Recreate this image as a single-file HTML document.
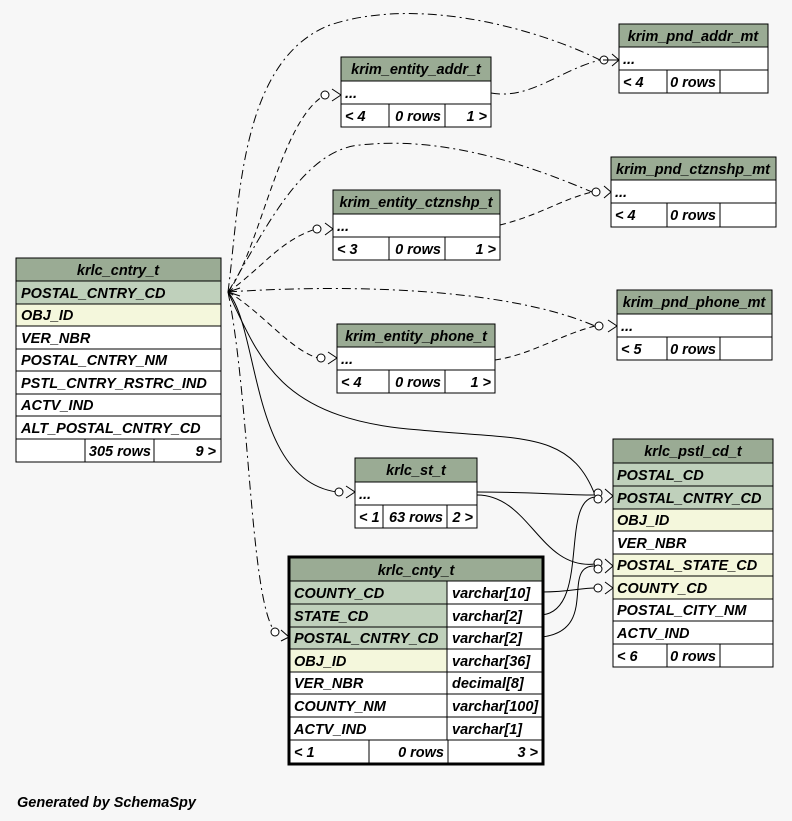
<!DOCTYPE html>
<html><head><meta charset="utf-8"><style>
html,body{margin:0;padding:0;background:#f7f7f7}
svg{display:block}
text{font-family:"Liberation Sans",Arial,sans-serif;font-weight:bold;font-style:italic;font-size:14.5px;fill:#000}
.h{fill:#9aab94}.k{fill:#bfd0bb}.y{fill:#f4f7dc}.w{fill:#fff}
rect{stroke:#000;stroke-width:1}
.e{fill:none;stroke:#000;stroke-width:1}
.d{fill:none;stroke:#000;stroke-width:1;stroke-dasharray:6,4}
.dd{fill:none;stroke:#000;stroke-width:1;stroke-dasharray:9,4,2,4}
circle{fill:#fff;stroke:#000}
</style></head><body>
<svg width="792" height="821" viewBox="0 0 792 821" xmlns="http://www.w3.org/2000/svg">
<rect x="0" y="0" width="792" height="821" fill="#f7f7f7" style="stroke:none"/>

<!-- edges -->
<path class="dd" d="M228,292 C240,200 240,60 330,25 C420,-5 540,30 600,60"/>
<path class="d" d="M228,292 C260,250 280,120 325,95"/>
<path class="dd" d="M491,93 C530,100 560,70 600,60"/>
<path class="dd" d="M228,292 C260,240 300,150 360,145 C450,135 540,170 592,192"/>
<path class="d" d="M228,292 C260,270 280,240 316,229"/>
<path class="d" d="M500,225 C540,215 560,200 592,192"/>
<path class="dd" d="M228,292 C330,285 500,285 595,326"/>
<path class="d" d="M228,292 C260,310 290,350 318,358"/>
<path class="d" d="M495,360 C530,355 560,335 595,326"/>
<path class="e" d="M228,292 C260,330 250,480 337,492"/>
<path class="e" d="M228,292 C260,360 280,420 420,430 C520,440 570,430 595,495"/>
<path class="e" d="M477,492 C530,492 560,495 595,495"/>
<path class="e" d="M477,495 C530,495 540,570 595,564"/>
<path class="e" d="M542,592 C570,592 580,588 595,588"/>
<path class="e" d="M542,615 C590,610 560,500 595,497"/>
<path class="e" d="M542,637 C600,630 560,565 595,566"/>
<path class="dd" d="M228,292 C250,400 250,600 275,632"/>
<!-- markers -->
<circle cx="604" cy="60" r="4"/><circle cx="325" cy="95" r="4"/>
<circle cx="596" cy="192" r="4"/><circle cx="317" cy="229" r="4"/>
<circle cx="599" cy="326" r="4"/><circle cx="321" cy="358" r="4"/>
<circle cx="339" cy="492" r="4"/>
<circle cx="598" cy="493" r="4"/><circle cx="598" cy="499" r="4"/>
<circle cx="598" cy="563" r="4"/><circle cx="598" cy="569" r="4"/>
<circle cx="598" cy="588" r="4"/>
<circle cx="275" cy="632" r="4"/>
<path class="e" d="M612,54 L619,60 L612,66 M619,60 L603,60 M332,89 L341,95 L332,101 M604,186 L611,192 L604,198 M325,223 L333,229 L325,235 M608,320 L617,326 L608,332 M328,352 L337,358 L328,364 M346,486 L355,492 L346,498 M605,489 L613,496 L605,503 M605,559 L613,566 L605,573 M605,582 L613,588 L605,594 M281,630 L289,637 L281,641 M228,292 L240,288 M228,292 L240,296"/>

<!-- krlc_cntry_t -->
<rect class="h" x="16" y="258" width="205" height="23"/><text x="118" y="275" text-anchor="middle">krlc_cntry_t</text>
<rect class="k" x="16" y="281" width="205" height="23"/><text x="21" y="298">POSTAL_CNTRY_CD</text>
<rect class="y" x="16" y="304" width="205" height="22"/><text x="21" y="320">OBJ_ID</text>
<rect class="w" x="16" y="326" width="205" height="23"/><text x="21" y="343">VER_NBR</text>
<rect class="w" x="16" y="349" width="205" height="22"/><text x="21" y="365">POSTAL_CNTRY_NM</text>
<rect class="w" x="16" y="371" width="205" height="23"/><text x="21" y="388">PSTL_CNTRY_RSTRC_IND</text>
<rect class="w" x="16" y="394" width="205" height="22"/><text x="21" y="410">ACTV_IND</text>
<rect class="w" x="16" y="416" width="205" height="23"/><text x="21" y="433">ALT_POSTAL_CNTRY_CD</text>
<rect class="w" x="16" y="439" width="69" height="23"/><rect class="w" x="85" y="439" width="69" height="23"/><rect class="w" x="154" y="439" width="67" height="23"/>
<text x="151" y="456" text-anchor="end">305 rows</text><text x="216" y="456" text-anchor="end">9 &gt;</text>

<!-- krim_entity_addr_t -->
<rect class="h" x="341" y="57" width="150" height="24"/><text x="416" y="74" text-anchor="middle">krim_entity_addr_t</text>
<rect class="w" x="341" y="81" width="150" height="23"/><text x="345" y="98">...</text>
<rect class="w" x="341" y="104" width="48" height="23"/><rect class="w" x="389" y="104" width="56" height="23"/><rect class="w" x="445" y="104" width="46" height="23"/>
<text x="345" y="121">&lt; 4</text><text x="441" y="121" text-anchor="end">0 rows</text><text x="487" y="121" text-anchor="end">1 &gt;</text>

<!-- krim_pnd_addr_mt -->
<rect class="h" x="619" y="24" width="149" height="23"/><text x="693" y="41" text-anchor="middle">krim_pnd_addr_mt</text>
<rect class="w" x="619" y="47" width="149" height="23"/><text x="623" y="64">...</text>
<rect class="w" x="619" y="70" width="48" height="23"/><rect class="w" x="667" y="70" width="53" height="23"/><rect class="w" x="720" y="70" width="48" height="23"/>
<text x="623" y="87">&lt; 4</text><text x="716" y="87" text-anchor="end">0 rows</text>

<!-- krim_pnd_ctznshp_mt -->
<rect class="h" x="611" y="157" width="165" height="23"/><text x="693" y="174" text-anchor="middle">krim_pnd_ctznshp_mt</text>
<rect class="w" x="611" y="180" width="165" height="23"/><text x="615" y="197">...</text>
<rect class="w" x="611" y="203" width="56" height="24"/><rect class="w" x="667" y="203" width="53" height="24"/><rect class="w" x="720" y="203" width="56" height="24"/>
<text x="615" y="220">&lt; 4</text><text x="716" y="220" text-anchor="end">0 rows</text>

<!-- krim_entity_ctznshp_t -->
<rect class="h" x="333" y="190" width="167" height="24"/><text x="416" y="207" text-anchor="middle">krim_entity_ctznshp_t</text>
<rect class="w" x="333" y="214" width="167" height="23"/><text x="337" y="231">...</text>
<rect class="w" x="333" y="237" width="56" height="23"/><rect class="w" x="389" y="237" width="56" height="23"/><rect class="w" x="445" y="237" width="55" height="23"/>
<text x="337" y="254">&lt; 3</text><text x="441" y="254" text-anchor="end">0 rows</text><text x="496" y="254" text-anchor="end">1 &gt;</text>

<!-- krim_pnd_phone_mt -->
<rect class="h" x="617" y="290" width="155" height="24"/><text x="694" y="307" text-anchor="middle">krim_pnd_phone_mt</text>
<rect class="w" x="617" y="314" width="155" height="23"/><text x="621" y="331">...</text>
<rect class="w" x="617" y="337" width="50" height="23"/><rect class="w" x="667" y="337" width="53" height="23"/><rect class="w" x="720" y="337" width="52" height="23"/>
<text x="621" y="354">&lt; 5</text><text x="716" y="354" text-anchor="end">0 rows</text>

<!-- krim_entity_phone_t -->
<rect class="h" x="337" y="324" width="158" height="23"/><text x="416" y="341" text-anchor="middle">krim_entity_phone_t</text>
<rect class="w" x="337" y="347" width="158" height="23"/><text x="341" y="364">...</text>
<rect class="w" x="337" y="370" width="52" height="23"/><rect class="w" x="389" y="370" width="56" height="23"/><rect class="w" x="445" y="370" width="50" height="23"/>
<text x="341" y="387">&lt; 4</text><text x="441" y="387" text-anchor="end">0 rows</text><text x="491" y="387" text-anchor="end">1 &gt;</text>

<!-- krlc_st_t -->
<rect class="h" x="355" y="458" width="122" height="24"/><text x="416" y="475" text-anchor="middle">krlc_st_t</text>
<rect class="w" x="355" y="482" width="122" height="23"/><text x="359" y="499">...</text>
<rect class="w" x="355" y="505" width="28" height="23"/><rect class="w" x="383" y="505" width="64" height="23"/><rect class="w" x="447" y="505" width="30" height="23"/>
<text x="359" y="522">&lt; 1</text><text x="443" y="522" text-anchor="end">63 rows</text><text x="473" y="522" text-anchor="end">2 &gt;</text>

<!-- krlc_pstl_cd_t -->
<rect class="h" x="613" y="439" width="160" height="24"/><text x="693" y="456" text-anchor="middle">krlc_pstl_cd_t</text>
<rect class="k" x="613" y="463" width="160" height="23"/><text x="617" y="480">POSTAL_CD</text>
<rect class="k" x="613" y="486" width="160" height="23"/><text x="617" y="503">POSTAL_CNTRY_CD</text>
<rect class="y" x="613" y="509" width="160" height="22"/><text x="617" y="525">OBJ_ID</text>
<rect class="w" x="613" y="531" width="160" height="23"/><text x="617" y="548">VER_NBR</text>
<rect class="y" x="613" y="554" width="160" height="22"/><text x="617" y="570">POSTAL_STATE_CD</text>
<rect class="y" x="613" y="576" width="160" height="23"/><text x="617" y="593">COUNTY_CD</text>
<rect class="w" x="613" y="599" width="160" height="22"/><text x="617" y="615">POSTAL_CITY_NM</text>
<rect class="w" x="613" y="621" width="160" height="23"/><text x="617" y="638">ACTV_IND</text>
<rect class="w" x="613" y="644" width="54" height="23"/><rect class="w" x="667" y="644" width="53" height="23"/><rect class="w" x="720" y="644" width="53" height="23"/>
<text x="617" y="661">&lt; 6</text><text x="716" y="661" text-anchor="end">0 rows</text>

<!-- krlc_cnty_t -->
<rect class="h" x="290" y="558" width="252" height="23"/><text x="416" y="575" text-anchor="middle">krlc_cnty_t</text>
<rect class="k" x="290" y="581" width="157" height="23"/><rect class="w" x="447" y="581" width="95" height="23"/><text x="294" y="598">COUNTY_CD</text><text x="452" y="598">varchar[10]</text>
<rect class="k" x="290" y="604" width="157" height="23"/><rect class="w" x="447" y="604" width="95" height="23"/><text x="294" y="621">STATE_CD</text><text x="452" y="621">varchar[2]</text>
<rect class="k" x="290" y="627" width="157" height="22"/><rect class="w" x="447" y="627" width="95" height="22"/><text x="294" y="643">POSTAL_CNTRY_CD</text><text x="452" y="643">varchar[2]</text>
<rect class="y" x="290" y="649" width="157" height="23"/><rect class="w" x="447" y="649" width="95" height="23"/><text x="294" y="666">OBJ_ID</text><text x="452" y="666">varchar[36]</text>
<rect class="w" x="290" y="672" width="157" height="22"/><rect class="w" x="447" y="672" width="95" height="22"/><text x="294" y="688">VER_NBR</text><text x="452" y="688">decimal[8]</text>
<rect class="w" x="290" y="694" width="157" height="23"/><rect class="w" x="447" y="694" width="95" height="23"/><text x="294" y="711">COUNTY_NM</text><text x="452" y="711">varchar[100]</text>
<rect class="w" x="290" y="717" width="157" height="23"/><rect class="w" x="447" y="717" width="95" height="23"/><text x="294" y="734">ACTV_IND</text><text x="452" y="734">varchar[1]</text>
<rect class="w" x="290" y="740" width="79" height="23"/><rect class="w" x="369" y="740" width="79" height="23"/><rect class="w" x="448" y="740" width="94" height="23"/>
<text x="294" y="757">&lt; 1</text><text x="444" y="757" text-anchor="end">0 rows</text><text x="538" y="757" text-anchor="end">3 &gt;</text>
<rect x="289" y="557" width="254" height="207" style="fill:none;stroke:#000;stroke-width:3"/>

<text x="17" y="807">Generated by SchemaSpy</text>
</svg>
</body></html>
